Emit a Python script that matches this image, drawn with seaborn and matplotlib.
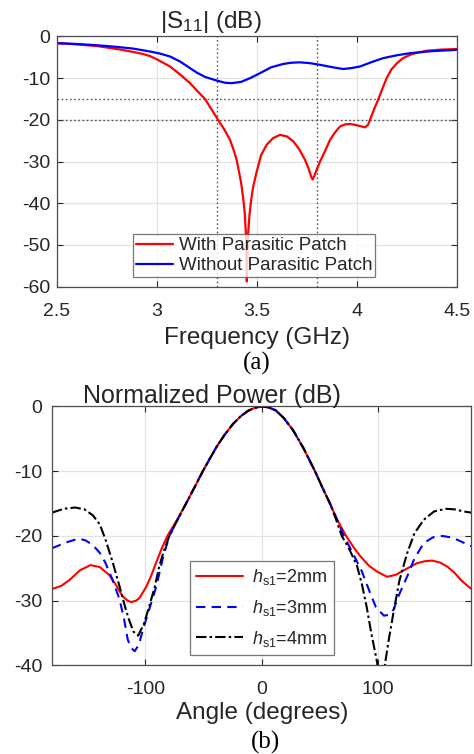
import matplotlib
matplotlib.use("Agg")
import matplotlib.pyplot as plt
import seaborn as sns
import pandas as pd

# ---------------- data: (a) |S11| ----------------
freq_with = [2.5, 2.6, 2.7, 2.8, 2.88, 2.93, 2.965, 3.0, 3.065, 3.115, 3.165, 3.2, 3.24,
             3.27, 3.305, 3.335, 3.365, 3.385, 3.398, 3.41, 3.42, 3.43, 3.438, 3.444,
             3.447, 3.449, 3.452, 3.456, 3.462, 3.47, 3.48, 3.498, 3.52, 3.548, 3.58,
             3.615, 3.65, 3.682, 3.71, 3.74, 3.76, 3.772, 3.778, 3.785, 3.8, 3.815,
             3.84, 3.865, 3.89, 3.915, 3.94, 3.965, 3.99, 4.015, 4.04, 4.055, 4.065,
             4.085, 4.107, 4.128, 4.148, 4.172, 4.2, 4.23, 4.265, 4.3, 4.35, 4.42, 4.5]
s11_with = [-1.6, -1.9, -2.3, -3.0, -3.7, -4.2, -4.7, -5.5, -7.2, -9.1, -11.2, -13.0, -15.0,
            -17.3, -20.0, -22.2, -24.8, -27.5, -29.6, -32.5, -35.0, -38.5, -42.0, -47.0,
            -53.0, -58.8, -53.0, -47.0, -43.0, -39.5, -36.2, -32.5, -28.5, -26.0, -24.4,
            -23.6, -24.0, -25.2, -27.0, -29.6, -32.0, -33.8, -34.3, -33.6, -31.8, -30.0,
            -27.5, -24.8, -23.0, -21.6, -21.1, -21.0, -21.2, -21.5, -21.8, -21.2, -20.0,
            -17.5, -15.0, -12.4, -10.0, -7.9, -6.4, -5.2, -4.4, -3.9, -3.4, -3.15, -3.0]

freq_without = [2.5, 2.6, 2.7, 2.8, 2.88, 2.965, 3.015, 3.065, 3.115, 3.165, 3.2, 3.24,
                3.3, 3.34, 3.373, 3.42, 3.465, 3.515, 3.57, 3.63, 3.67, 3.715, 3.765,
                3.815, 3.88, 3.93, 3.97, 4.015, 4.07, 4.13, 4.2, 4.265, 4.38, 4.5]
s11_without = [-1.6, -1.8, -2.1, -2.5, -2.9, -3.6, -4.1, -4.8, -6.0, -7.6, -8.7, -9.7,
               -10.6, -11.1, -11.2, -10.9, -10.0, -8.8, -7.4, -6.6, -6.3, -6.2, -6.4,
               -6.8, -7.4, -7.8, -7.6, -7.2, -6.2, -5.2, -4.5, -4.0, -3.5, -3.2]

s11_labels = ["With Parasitic Patch", "Without Parasitic Patch"]

# ---------------- data: (b) normalized power ----------------
ang_2mm = [-180, -172, -165, -156, -147, -139, -131, -125, -119.5, -115, -112, -108, -105,
           -99, -95, -90.8, -86, -81, -72, -65, -58, -50.6, -45, -39, -32, -24.7, -18,
           -12, -6, 0, 6, 12, 19, 27, 36, 45.7, 52, 58.6, 65, 72.4, 79, 84.5, 92, 99,
           107.5, 115, 122, 128, 133.4, 140, 146.3, 153, 159, 165, 171, 176, 180]
pow_2mm = [-28.2, -27.7, -26.8, -25.3, -24.5, -24.8, -26.0, -27.6, -29.3, -30.0, -30.2,
           -30.0, -29.6, -27.8, -26.2, -24.2, -22.0, -20.0, -17.3, -15.0, -12.6, -10.0,
           -8.2, -6.3, -4.4, -2.7, -1.5, -0.7, -0.2, 0.0, -0.15, -0.6, -1.8, -3.7, -6.5,
           -10.0, -12.5, -15.0, -17.6, -20.0, -21.8, -23.1, -24.6, -25.5, -26.3, -26.0,
           -25.3, -24.7, -24.2, -23.9, -23.8, -24.1, -24.7, -25.6, -26.8, -27.6, -28.2]

ang_3mm = [-180, -168, -157, -151, -145, -139, -134, -128, -122, -118, -115, -112, -109,
           -105.5, -102, -96, -90.5, -85, -79.3, -72, -65, -58, -50.6, -45, -39, -32,
           -24.7, -18, -12, -6, 0, 6, 12, 19, 27, 36, 45.7, 52, 58.6, 64.5, 70.5, 78,
           86, 93, 98, 104.8, 109, 113, 118, 124.7, 131, 139, 147, 155, 162, 168, 174,
           180]
pow_3mm = [-21.9, -21.0, -20.4, -20.7, -21.4, -22.6, -24.2, -26.8, -29.8, -33.0, -36.0,
           -37.3, -37.8, -36.8, -34.5, -31.0, -27.8, -23.5, -20.0, -17.4, -15.0, -12.6,
           -10.0, -8.2, -6.3, -4.4, -2.7, -1.5, -0.7, -0.2, 0.0, -0.15, -0.6, -1.8,
           -3.7, -6.5, -10.0, -12.5, -15.0, -17.4, -20.0, -22.6, -25.5, -28.8, -31.0,
           -32.3, -32.2, -31.4, -29.0, -26.3, -23.5, -21.1, -20.2, -20.0, -20.2, -20.6,
           -21.1, -21.6]

ang_4mm = [-180, -170, -160, -152, -145, -139, -134, -128, -122, -118, -114, -110, -106,
           -101, -96.6, -92, -88, -84, -79.3, -72, -65, -58, -50.6, -45, -39, -32, -24.7,
           -18, -12, -6, 0, 6, 12, 19, 27, 36, 45.7, 52, 58.6, 63.5, 68.7, 75, 81.6, 86,
           90, 94, 99, 102.5, 106, 109.5, 113, 118, 124.7, 131, 139, 148, 158, 166, 173,
           180]
pow_4mm = [-16.4, -15.8, -15.6, -15.9, -16.8, -18.2, -20.6, -24.0, -27.8, -30.5, -32.9,
           -34.8, -35.4, -33.5, -30.9, -28.0, -24.7, -22.3, -20.0, -17.4, -15.0, -12.6,
           -10.0, -8.2, -6.3, -4.4, -2.7, -1.5, -0.7, -0.2, 0.0, -0.15, -0.6, -1.8, -3.7,
           -6.5, -10.0, -12.5, -15.0, -17.3, -20.0, -22.0, -24.5, -27.5, -30.9, -35.0,
           -39.5, -45.0, -39.5, -35.5, -31.9, -27.0, -22.7, -19.6, -17.5, -16.2, -15.8,
           -15.9, -16.2, -16.4]

pow_labels = [r"$h_{\mathrm{s1}}$=2mm", r"$h_{\mathrm{s1}}$=3mm", r"$h_{\mathrm{s1}}$=4mm"]

# ---------------- build frames ----------------
df_a = pd.concat([
    pd.DataFrame({"f": freq_with, "s": s11_with, "curve": s11_labels[0]}),
    pd.DataFrame({"f": freq_without, "s": s11_without, "curve": s11_labels[1]}),
], ignore_index=True)

df_b = pd.concat([
    pd.DataFrame({"a": ang_2mm, "p": pow_2mm, "curve": pow_labels[0]}),
    pd.DataFrame({"a": ang_3mm, "p": pow_3mm, "curve": pow_labels[1]}),
    pd.DataFrame({"a": ang_4mm, "p": pow_4mm, "curve": pow_labels[2]}),
], ignore_index=True)

sns.set_style("ticks")
plt.rcParams["font.family"] = ["Liberation Sans", "DejaVu Sans"]
plt.rcParams["mathtext.fontset"] = "custom"
plt.rcParams["mathtext.rm"] = "Liberation Sans"
plt.rcParams["mathtext.it"] = "Liberation Sans:italic"
plt.rcParams["mathtext.bf"] = "Liberation Sans:bold"
plt.rcParams["axes.unicode_minus"] = False

fig = plt.figure(figsize=(4.74, 7.54), dpi=100)
ax1 = fig.add_axes([0.1203, 0.620, 0.8439, 0.3316])
ax2 = fig.add_axes([0.1097, 0.1174, 0.885, 0.3435])

GRID = "#e3e3e3"
TXT = "#262626"

def style_axes(ax, xpad, ypad):
    ax.grid(True, color=GRID, linewidth=0.9, zorder=0)
    ax.set_axisbelow(True)
    ax.tick_params(direction="in", length=4, width=0.8, top=True, right=True,
                   labelsize=14, colors=TXT)
    ax.tick_params(axis="x", pad=xpad)
    ax.tick_params(axis="y", pad=ypad)
    for sp in ax.spines.values():
        sp.set_visible(True)
        sp.set_color("#4d4d4d")
        sp.set_linewidth(0.9)

# ---------- (a) ----------
sns.lineplot(data=df_a, x="f", y="s", hue="curve", palette=["#ff0000", "#0000ff"],
             hue_order=s11_labels, sort=False, estimator=None, linewidth=1.6, ax=ax1)
for xv in (3.3, 3.8):
    ax1.axvline(xv, color="#555555", linestyle=(0, (1.2, 1.8)), linewidth=1.0, zorder=1)
for yv in (-15, -20):
    ax1.axhline(yv, color="#555555", linestyle=(0, (1.2, 1.8)), linewidth=1.0, zorder=1)
ax1.set_xlim(2.5, 4.5)
ax1.set_ylim(-60, 0)
ax1.set_xticks([2.5, 3, 3.5, 4, 4.5])
ax1.set_xticklabels(["2.5", "3", "3.5", "4", "4.5"])
ax1.set_yticks([0, -10, -20, -30, -40, -50, -60])
ax1.set_xlabel("Frequency (GHz)", fontsize=17.5, color=TXT, labelpad=5)
ax1.set_ylabel("")
style_axes(ax1, 12, 5)
leg1 = ax1.legend(loc="lower left", bbox_to_anchor=(0.19, 0.038), borderaxespad=0,
                  fontsize=13.5, frameon=True, fancybox=False, handlelength=2.0,
                  handletextpad=0.3, borderpad=0.15, labelspacing=0.15)
leg1.get_frame().set_edgecolor("#555555")
leg1.get_frame().set_linewidth(0.9)
for t in leg1.get_texts():
    t.set_color(TXT)
fig.text(160 / 474, 1 - 28 / 754, r"|S$_{11}$| (dB)", fontsize=17.5, ha="left",
         va="baseline", color=TXT)
fig.text(257 / 474, 1 - 370 / 754, "(a)", fontsize=18, ha="center", va="baseline",
         family="Liberation Serif", color="black")

# ---------- (b) ----------
sns.lineplot(data=df_b, x="a", y="p", hue="curve", style="curve",
             hue_order=pow_labels, style_order=pow_labels,
             palette=["#ff0000", "#0000ff", "#000000"],
             dashes=["", (4.5, 3), (5, 1.5, 1.2, 1.5)],
             sort=False, estimator=None, linewidth=1.5, ax=ax2)
ax2.set_xlim(-180, 180)
ax2.set_ylim(-40, 0)
ax2.set_xticks([-100, 0, 100])
ax2.set_yticks([0, -10, -20, -30, -40])
ax2.set_xlabel("Angle (degrees)", fontsize=17.5, color=TXT, labelpad=3)
ax2.set_ylabel("")
style_axes(ax2, 11, 7)
leg2 = ax2.legend(loc="lower left", bbox_to_anchor=(0.329, 0.04), borderaxespad=0,
                  fontsize=13, frameon=True, fancybox=False, handlelength=2.6,
                  handletextpad=0.5, borderpad=0.35, labelspacing=0.6)
leg2.get_frame().set_edgecolor("#555555")
leg2.get_frame().set_linewidth(0.9)
for t in leg2.get_texts():
    t.set_color(TXT)
fig.text(212 / 474, 1 - 403 / 754, "Normalized Power (dB)", fontsize=18, ha="center",
         va="baseline", color=TXT)
fig.text(265 / 474, 1 - 749 / 754, "(b)", fontsize=18, ha="center", va="baseline",
         family="Liberation Serif", color="black")

fig.savefig("out.png", dpi=100, facecolor="white")
